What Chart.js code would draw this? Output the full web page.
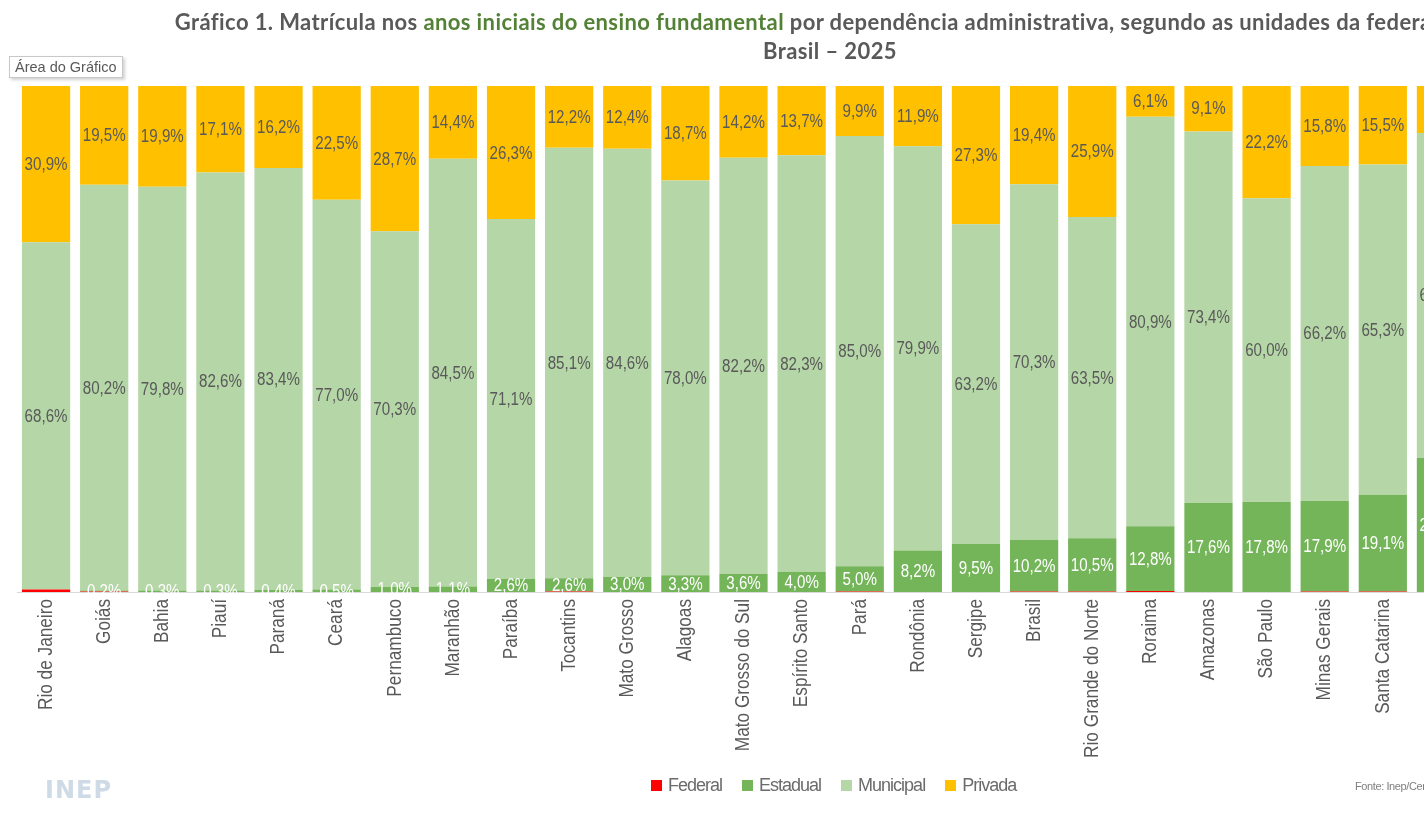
<!DOCTYPE html>
<html lang="pt-BR">
<head>
<meta charset="utf-8">
<script src="https://cdn.jsdelivr.net/npm/chart.js@4.4.1/dist/chart.umd.min.js"></script>
<style>
  html, body { margin: 0; padding: 0; background: #fff; overflow: hidden; }
  #wrap { position: relative; width: 1424px; height: 817px; overflow: hidden; }
  #chartBox { position: absolute; left: 0; top: 0; width: 1660px; height: 817px; }
  #titulo { position: absolute; left: 0; top: 7px; width: 1660px; text-align: center;
    font-family: Lato, 'Open Sans', sans-serif; font-weight: 700; font-size: 22px; letter-spacing: 0.4px;
    line-height: 29px; color: #595959; }
  #titulo .linha1 { position: relative; left: -9px; }
  #titulo .verde { color: #538135; }
  #area { position: absolute; left: 9px; top: 56px; padding: 2px 5px; background: #fff; border: 1px solid #c8c8c8;
    box-shadow: 2px 2px 3px rgba(0,0,0,0.18); font-family: 'Liberation Sans', Arial, sans-serif;
    font-size: 14.5px; color: #595959; }
  #legenda { position: absolute; left: 651px; top: 775px; display: flex; gap: 20px;
    font-family: 'Liberation Sans', Arial, sans-serif; font-size: 18px; letter-spacing: -1px; color: #6b6b6b; }
  #legenda span.item { display: flex; align-items: center; gap: 6px; }
  #legenda i { display: inline-block; width: 11px; height: 11px; }
  #fonte { position: absolute; left: 1355px; top: 780px; font-family: 'Liberation Sans', Arial, sans-serif;
    font-size: 11px; letter-spacing: -0.4px; color: #7f7f7f; white-space: nowrap; }
  #inep { position: absolute; left: 45px; top: 776px; font-family: 'DejaVu Sans', sans-serif; font-weight: 700;
    font-size: 24px; letter-spacing: 1px; color: #cfdae7; }
</style>
</head>
<body>
<div id="wrap">
  <div id="chartBox"><canvas id="grafico" width="1660" height="817"></canvas></div>
  <div id="titulo"><span class="linha1">Gráfico 1. Matrícula nos <span class="verde">anos iniciais do ensino fundamental</span> por dependência administrativa, segundo as unidades da federação</span><br>Brasil – 2025</div>
  <div id="area">Área do Gráfico</div>
  <div id="legenda"></div>
  <div id="inep">INEP</div>
  <div id="fonte">Fonte: Inep/Censo Escolar da Educação Básica 2025.</div>
</div>
<script>
// categorias (UF) na ordem do gráfico
const categorias = ['Rio de Janeiro', 'Goiás', 'Bahia', 'Piauí', 'Paraná', 'Ceará', 'Pernambuco', 'Maranhão',
  'Paraíba', 'Tocantins', 'Mato Grosso', 'Alagoas', 'Mato Grosso do Sul', 'Espírito Santo', 'Pará', 'Rondônia',
  'Sergipe', 'Brasil', 'Rio Grande do Norte', 'Roraima', 'Amazonas', 'São Paulo', 'Minas Gerais', 'Santa Catarina',
  'Rio Grande do Sul'];

// percentuais por dependência administrativa
const federal   = [0.5, 0.1, 0, 0, 0, 0, 0, 0, 0, 0.1, 0, 0, 0, 0, 0.1, 0, 0, 0.1, 0.1, 0.2, 0, 0, 0.1, 0.1, 0];
const estadual  = [0, 0.2, 0.3, 0.3, 0.4, 0.5, 1.0, 1.1, 2.6, 2.6, 3.0, 3.3, 3.6, 4.0, 5.0, 8.2, 9.5, 10.2, 10.5,
  12.8, 17.6, 17.8, 17.9, 19.1, 26.5];
const municipal = [68.6, 80.2, 79.8, 82.6, 83.4, 77.0, 70.3, 84.5, 71.1, 85.1, 84.6, 78.0, 82.2, 82.3, 85.0, 79.9,
  63.2, 70.3, 63.5, 80.9, 73.4, 60.0, 66.2, 65.3, 64.2];
const privada   = [30.9, 19.5, 19.9, 17.1, 16.2, 22.5, 28.7, 14.4, 26.3, 12.2, 12.4, 18.7, 14.2, 13.7, 9.9, 11.9,
  27.3, 19.4, 25.9, 6.1, 9.1, 22.2, 15.8, 15.5, 9.3];

const series = [
  { label: 'Federal', data: federal, color: '#ff0000', text: null },
  { label: 'Estadual', data: estadual, color: '#75b55a', text: '#ffffff' },
  { label: 'Municipal', data: municipal, color: '#b5d6a7', text: '#595959' },
  { label: 'Privada', data: privada, color: '#ffc000', text: '#595959' }
];

const fonte = "'Liberation Sans', Arial, sans-serif";

// legenda em HTML
const legenda = document.getElementById('legenda');
series.forEach(s => {
  const item = document.createElement('span');
  item.className = 'item';
  item.innerHTML = `<i style="background:${s.color}"></i>${s.label}`;
  legenda.appendChild(item);
});

// texto "estreito" (imita Arial Narrow) com escala horizontal
function textoEstreito(ctx, txt, x, y, fator, rot) {
  ctx.save();
  ctx.translate(x, y);
  if (rot) ctx.rotate(rot);
  ctx.scale(fator, 1);
  ctx.fillText(txt, 0, 0);
  ctx.restore();
}

// rótulos de dados centrados em cada segmento
const rotulos = {
  id: 'rotulos',
  afterDatasetsDraw(chart) {
    const ctx = chart.ctx;
    ctx.save();
    ctx.font = '18px ' + fonte;
    ctx.textAlign = 'center';
    ctx.textBaseline = 'middle';
    chart.data.datasets.forEach((ds, i) => {
      const cor = series[i].text;
      if (!cor) return;
      chart.getDatasetMeta(i).data.forEach((bar, j) => {
        const v = ds.data[j];
        if (!v) return;
        ctx.fillStyle = cor;
        textoEstreito(ctx, v.toFixed(1).replace('.', ',') + '%', bar.x, (bar.y + bar.base) / 2 + 1, 0.84);
      });
    });
    ctx.restore();
  }
};

// rótulos das categorias, girados 90°, a partir da escala x
const rotulosX = {
  id: 'rotulosX',
  afterDraw(chart) {
    const ctx = chart.ctx;
    const sx = chart.scales.x;
    ctx.save();
    ctx.font = '21px ' + fonte;
    ctx.fillStyle = '#595959';
    ctx.textAlign = 'right';
    ctx.textBaseline = 'middle';
    categorias.forEach((c, i) => {
      textoEstreito(ctx, c, sx.getPixelForTick(i), sx.top + 7, 0.82, -Math.PI / 2);
    });
    ctx.restore();
  }
};

new Chart(document.getElementById('grafico'), {
  type: 'bar',
  data: {
    labels: categorias,
    datasets: series.map(s => ({
      label: s.label,
      data: s.data,
      backgroundColor: s.color,
      borderWidth: 0,
      categoryPercentage: 1,
      barPercentage: 0.83
    }))
  },
  options: {
    responsive: false,
    animation: false,
    layout: { padding: { top: 86, left: 17, right: 190, bottom: 55 } },
    plugins: {
      legend: { display: false },
      tooltip: { enabled: false },
      title: { display: false }
    },
    scales: {
      x: {
        stacked: true,
        grid: { display: false, drawTicks: false },
        border: { display: true, color: '#d9d9d9', width: 1 },
        ticks: { display: false },
        afterFit: (scale) => { scale.height = 170; }
      },
      y: {
        stacked: true,
        display: false,
        min: 0,
        max: 100
      }
    }
  },
  plugins: [rotulos, rotulosX]
});
</script>
</body>
</html>
